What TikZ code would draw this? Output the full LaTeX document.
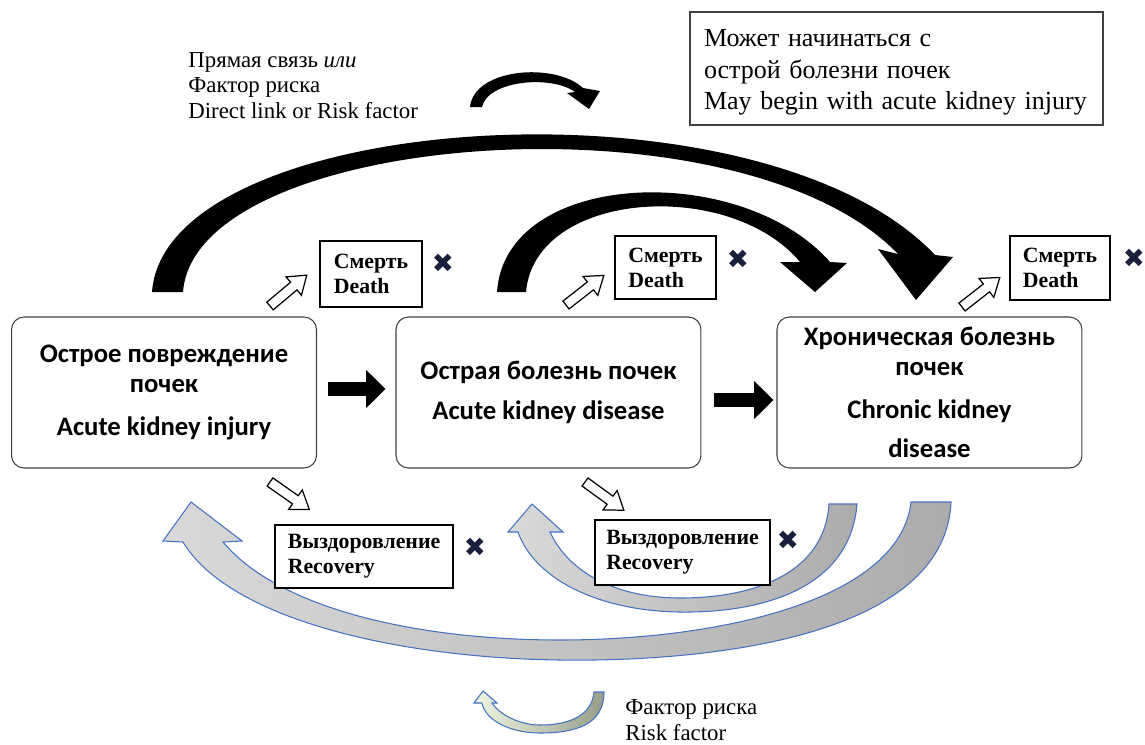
\documentclass[tikz,border=0pt]{standalone}
\usepackage{fontspec}
\setmainfont{Liberation Serif}
\newfontfamily\boxfont{Carlito}
\newfontfamily\markfont{DejaVu Sans}
\usetikzlibrary{arrows.meta,positioning,calc,shadings}
\definecolor{edgeblue}{RGB}{68,114,196}
\definecolor{crossnavy}{RGB}{25,32,60}
\definecolor{lightgrey}{RGB}{217,217,217}
\definecolor{darkgrey}{RGB}{172,172,172}
\definecolor{palegreen}{RGB}{238,245,224}
\definecolor{olivegrey}{RGB}{150,158,138}

\begin{document}
\begin{tikzpicture}[%
    x=0.02cm, y=-0.02cm,
    stage/.style={rectangle, draw=black!75, fill=white, line width=0.6pt, rounded corners=0.25cm, minimum width=6.1cm, minimum height=3.02cm, align=center, font=\boxfont\bfseries\fontsize{15.2}{17}\selectfont},
    outcome/.style={rectangle, draw, fill=white, line width=1.1pt, align=left, inner sep=0pt, font=\bfseries\fontsize{12.4}{14.2}\selectfont},
    note/.style={align=left, inner sep=0pt, font=\fontsize{13}{14.5}\selectfont},
    cross/.style={inner sep=0pt, text=crossnavy, font=\markfont\fontsize{15}{15}\selectfont},
    blockarrow/.style={line width=8.5pt, -{Triangle[length=11pt, width=21pt]}},
    bigarc/.style={fill=black},
    backarc/.style={draw=edgeblue, line width=0.6pt, left color=lightgrey, right color=darkgrey},
    pics/hollow/.style={code={\draw[line width=0.7pt, fill=white] (0,-5) -- (31,-5) -- (31,-12) -- (48,0) -- (31,12) -- (31,5) -- (0,5) -- cycle;}},
  ]
  \useasboundingbox (0,0) rectangle (1145,744);

  % --- back arrows (below) ---
  \draw[backarc] (951,502) .. controls (945,640) and (700,662) .. (560,660)
    .. controls (400,658) and (230,620) .. (183,542) -- (163,541) -- (191,502) -- (242,541) -- (223,542)
    .. controls (280,610) and (420,640) .. (560,640) .. controls (720,640) and (900,600) .. (911,502) -- cycle;
  \draw[backarc] (857,504) .. controls (850,590) and (760,613) .. (680,612)
    .. controls (600,611) and (535,580) .. (518,532) -- (508,532) -- (532,504) -- (563,532) -- (550,532)
    .. controls (570,575) and (620,598) .. (680,598) .. controls (760,598) and (825,570) .. (829,504) -- cycle;
  \draw[backarc, left color=palegreen, right color=olivegrey] (604,692) .. controls (604,725) and (575,733) .. (540,733)
    .. controls (510,733) and (485,720) .. (482,703) -- (474,703) -- (483,691) -- (497,703) -- (492,703)
    .. controls (500,715) and (520,725) .. (540,725) .. controls (570,725) and (592,715) .. (594,692) -- cycle;

  % --- curved arrows (above) ---
  \fill[bigarc] (152,292) .. controls (165,110) and (760,70) .. (935,255) -- (953,257) -- (916,300) -- (878,249) -- (898,254)
    .. controls (740,90) and (195,130) .. (183,292) -- cycle;
  \fill[bigarc] (497,292) .. controls (505,170) and (740,160) .. (830,262) -- (847,263) -- (815,292) -- (780,262) -- (800,262)
    .. controls (730,178) and (535,190) .. (526,292) -- cycle;
  \fill[bigarc] (470,107) .. controls (474,68) and (555,62) .. (583,88) -- (600,91) -- (589,109) -- (567,93) -- (575,92)
    .. controls (552,75) and (488,80) .. (482,107) -- cycle;

  % --- stages ---
  \node[stage] (aki) at (164,392.5) {Острое повреждение\\почек\\[7.4pt]Acute kidney injury};
  \node[stage, right=1.57cm of aki] (akd) {Острая болезнь почек\\[6.2pt]Acute kidney disease};
  \node[stage, right=1.5cm of akd] (ckd) {Хроническая болезнь\\почек\\[7.4pt]Chronic kidney\\[5pt]disease};

  \draw[blockarrow] ([xshift=0.22cm, yshift=0.07cm]aki.east) -- ([xshift=-0.2cm, yshift=0.07cm]akd.west);
  \draw[blockarrow] ([xshift=0.26cm, yshift=-0.15cm]akd.east) -- ([xshift=-0.06cm, yshift=-0.15cm]ckd.west);

  % --- outcomes ---
  \node[outcome, minimum width=2.04cm, minimum height=1.32cm] (d1) at (371,274) {Смерть\\Death};
  \node[outcome, minimum width=2.02cm, minimum height=1.26cm] (d2) at (665.5,267.5) {Смерть\\Death};
  \node[outcome, minimum width=2cm, minimum height=1.28cm] (d3) at (1060,268) {Смерть\\Death};
  \node[outcome, minimum width=3.56cm, minimum height=1.26cm] (r1) at (364,556.5) {Выздоровление\\Recovery};
  \node[outcome, minimum width=3.5cm, minimum height=1.3cm] (r2) at (682.5,552.5) {Выздоровление\\Recovery};

  \pic[rotate=40] at (270,306) {hollow};
  \pic[rotate=38] at (566,305) {hollow};
  \pic[rotate=38] at (962,307) {hollow};
  \pic[rotate=-35] at (270,482) {hollow};
  \pic[rotate=-36] at (585,482) {hollow};

  \node[cross] (x1) at (443,263) {✖};
  \node[cross] (x2) at (738,259) {✖};
  \node[cross] (x3) at (1134,258) {✖};
  \node[cross] (x4) at (475,547) {✖};
  \node[cross] (x5) at (788,540) {✖};

  % --- notes ---
  \node[note, anchor=base west] (lnk) at (188,118) {Прямая связь \textit{или}\\Фактор риска\\Direct link or Risk factor};
  \node[draw=black!75, line width=0.9pt, minimum width=8.26cm, minimum height=2.26cm, text width=7.7cm, align=left,
    font=\fontsize{14.8}{17.9}\selectfont] (beg) at (896.5,68.5) {\rule{0pt}{14.5pt}Может начинаться с\\острой болезни почек\\May begin with acute kidney injury};
  \node[note, anchor=west, font=\fontsize{13}{14.7}\selectfont] (rf) at (625,720) {Фактор риска\\Risk factor};
\end{tikzpicture}
\end{document}
